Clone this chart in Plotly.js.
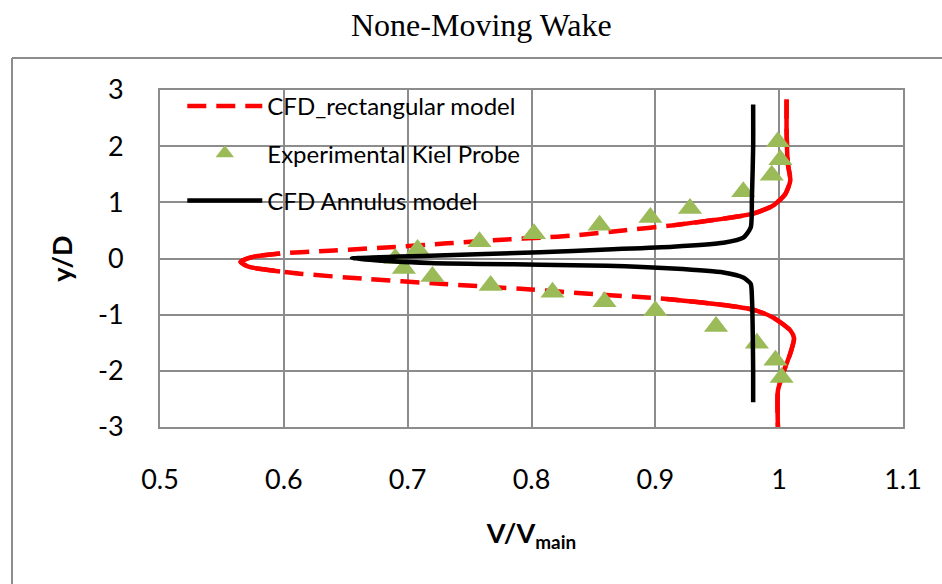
<!DOCTYPE html>
<html>
<head>
<meta charset="utf-8">
<script src="https://cdn.plot.ly/plotly-3.0.1.min.js"></script>
<style>html,body{margin:0;padding:0;background:#fff;}#chart{width:942px;height:584px;}</style>
</head>
<body>
<div id="chart"></div>
<script>
// CFD rectangular model (top -> tip -> bottom)
var rectX = [1.006,1.006,1.007,1.009,1.005,0.995,0.979,0.955,0.914,0.874,0.834,0.807,0.780,0.732,0.686,0.637,0.597,0.575,0.565,0.572,0.597,0.613,0.664,0.726,0.791,0.855,0.909,0.952,0.979,0.995,1.009,1.012,1.009,1.004,0.999,0.999];
var rectY = [2.83,2.28,1.69,1.39,1.15,0.94,0.80,0.71,0.59,0.50,0.41,0.37,0.34,0.27,0.20,0.14,0.09,0.03,-0.06,-0.15,-0.23,-0.27,-0.36,-0.45,-0.54,-0.64,-0.72,-0.82,-0.91,-1.05,-1.28,-1.42,-1.69,-1.99,-2.35,-3.0];
// Experimental Kiel probe
var expX = [0.999,1.001,0.994,0.971,0.928,0.896,0.855,0.802,0.758,0.708,0.690,0.697,0.720,0.767,0.817,0.859,0.900,0.949,0.982,0.997,1.002];
var expY = [2.08,1.76,1.48,1.19,0.89,0.73,0.59,0.44,0.30,0.16,0.00,-0.18,-0.32,-0.48,-0.60,-0.77,-0.93,-1.21,-1.51,-1.81,-2.12];
// CFD annulus model
var annX = [0.979,0.979,0.978,0.977,0.971,0.955,0.914,0.861,0.807,0.718,0.655,0.718,0.807,0.861,0.914,0.955,0.971,0.977,0.978,0.979,0.979];
var annY = [2.74,1.98,1.09,0.55,0.37,0.28,0.21,0.16,0.11,0.05,0.0,-0.08,-0.11,-0.13,-0.18,-0.25,-0.34,-0.45,-0.69,-2.0,-2.56];

var xTicks = [0.5,0.6,0.7,0.8,0.9,1.0,1.1];
var xTickText = ['0.5','0.6','0.7','0.8','0.9','1','1.1'];
var yTicks = [-3,-2,-1,0,1,2,3];
var yTickText = ['-3','-2','-1','0','1','2','3'];

var RED = '#FF0000';
var lineW = 4.5;
// solid-looking parts of the red curve (dense points)
var upSolidEnd = 9, tipStart = 16, tipEnd = 21, lowSolidStart = 26;

var traces = [
  {x: rectX, y: rectY, mode: 'lines', name: 'CFD_rectangular model', legendgroup: 'a',
   line: {color: RED, width: lineW, dash: '19px,10px', shape: 'spline', smoothing: 0.6}},
  {x: rectX.slice(0, upSolidEnd), y: rectY.slice(0, upSolidEnd), mode: 'lines', showlegend: false, hoverinfo: 'skip',
   line: {color: RED, width: lineW, shape: 'spline', smoothing: 0.6}},
  {x: rectX.slice(tipStart, tipEnd), y: rectY.slice(tipStart, tipEnd), mode: 'lines', showlegend: false, hoverinfo: 'skip',
   line: {color: RED, width: lineW, shape: 'spline', smoothing: 0.6}},
  {x: rectX.slice(lowSolidStart), y: rectY.slice(lowSolidStart), mode: 'lines', showlegend: false, hoverinfo: 'skip',
   line: {color: RED, width: lineW, shape: 'spline', smoothing: 0.6}},
  {x: expX, y: expY, mode: 'markers', name: 'Experimental Kiel Probe', legendgroup: 'b',
   marker: {symbol: 'triangle-up', size: 21, color: '#9BBB59', line: {width: 0}}},
  {x: annX, y: annY, mode: 'lines', name: 'CFD Annulus model', legendgroup: 'c',
   line: {color: '#000000', width: lineW, shape: 'spline', smoothing: 0.6}}
];

var gridC = '#8C8C8C';
var sans = 'Lato, "Open Sans", sans-serif';
var tickFont = {family: sans, size: 27, color: '#000'};
var layout = {
  width: 942, height: 584,
  margin: {l: 160, r: 39, t: 90, b: 157},
  paper_bgcolor: '#fff', plot_bgcolor: '#fff',
  showlegend: true,
  title: {text: 'None-Moving Wake', font: {family: '"Liberation Serif", "Times New Roman", serif', size: 32, color: '#000'},
          x: 0.511, xanchor: 'center', y: 0.958, yanchor: 'middle', xref: 'container', yref: 'container'},
  xaxis: {range: [0.5, 1.1], tickvals: xTicks, ticktext: xTickText, showgrid: true, gridcolor: gridC, gridwidth: 2,
          zeroline: false, showline: true, linecolor: gridC, linewidth: 2, mirror: true, ticks: '',
          tickfont: tickFont, ticklabelstandoff: 28,
          title: {text: '<b>V/V<sub>main</sub></b>', font: {family: sans, size: 27, color: '#000'}, standoff: 30}},
  yaxis: {range: [-3, 3], tickvals: yTicks, ticktext: yTickText, showgrid: true, gridcolor: gridC, gridwidth: 2,
          zeroline: false, showline: true, linecolor: gridC, linewidth: 2, mirror: true, ticks: '',
          tickfont: tickFont, ticklabelstandoff: 29,
          title: {text: '<b>y/D</b>', font: {family: sans, size: 27, color: '#000'}, standoff: 17}},
  legend: {x: 0.03, y: 1.018, xanchor: 'left', yanchor: 'top', bgcolor: 'rgba(0,0,0,0)', borderwidth: 0,
           font: {family: sans, size: 24, color: '#000'},
           traceorder: 'grouped', tracegroupgap: 13, itemwidth: 75},
  shapes: [
    {type: 'line', xref: 'paper', yref: 'paper', x0: -0.1992, x1: -0.1992, y0: 1.095, y1: -0.5, line: {color: gridC, width: 2}},
    {type: 'line', xref: 'paper', yref: 'paper', x0: -0.1992, x1: 1.1, y0: 1.095, y1: 1.095, line: {color: gridC, width: 2}}
  ]
};
Plotly.newPlot('chart', traces, layout, {staticPlot: true});
</script>
</body>
</html>
